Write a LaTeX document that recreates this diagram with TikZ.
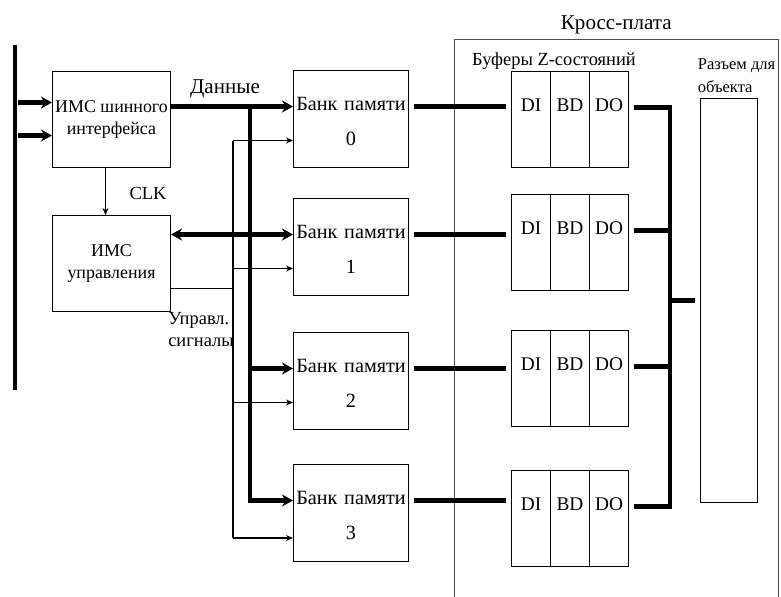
\documentclass[tikz,border=0pt]{standalone}
\usepackage{fontspec}
\setmainfont{Liberation Serif}
\usetikzlibrary{arrows.meta,positioning}
\tikzset{
  blk/.style={draw, line width=0.6pt, inner xsep=0pt, minimum width=2.36cm, minimum height=1.92cm, align=center, anchor=north west, font=\fontsize{10.2}{13}\selectfont},
  bank/.style={draw, line width=0.6pt, text width=2.3cm, inner sep=0pt, text height=0.8cm, text depth=1.14cm, align=center, anchor=north west, font=\fontsize{11.5}{20}\selectfont},
  cell/.style={draw, line width=0.6pt, minimum width=0.78cm, inner sep=0pt, text height=0.8cm, text depth=1.12cm, anchor=north west, font=\fontsize{11}{13}\selectfont},
  board/.style={draw=black!70, line width=0.4pt, minimum width=6.48cm, minimum height=12cm, anchor=north west},
  conn/.style={draw, line width=0.6pt, minimum width=1.14cm, minimum height=8.08cm, anchor=north west},
  sysbus/.style={fill=black, inner sep=0pt, minimum width=0.1cm, minimum height=6.9cm, anchor=north},
  lab/.style={font=\fontsize{10.5}{12.5}\selectfont, inner sep=1pt},
  busa/.style={line width=2.4pt, -{Stealth[length=2.2mm, width=2.4mm]}},
  busb/.style={line width=2.4pt, {Stealth[length=2.2mm, width=2.4mm]}-{Stealth[length=2.2mm, width=2.4mm]}},
  wire/.style={line width=0.6pt},
  ctl/.style={line width=0.6pt, -{Stealth[length=1.4mm, width=1.2mm]}},
  link/.style={line width=2.4pt, shorten <=0.1cm, shorten >=0.1cm},
}
\begin{document}
\begin{tikzpicture}[x=0.02cm, y=-0.02cm]
  \useasboundingbox (0,0) rectangle (781,596);
  % system bus and the two chips
  \node[sysbus] (sysbus) at (15,45) {};
  \node[blk] (busif) at (52,71) {ИМС шинного\\интерфейса};
  \node[blk] (ctrl) at (52,215) {ИМС\\управления};
  % memory banks
  \node[bank] (bank0) at (293,70) {Банк памяти\\0};
  \node[bank] (bank1) at (293,198) {Банк памяти\\1};
  \node[bank] (bank2) at (293,332) {Банк памяти\\2};
  \node[bank] (bank3) at (293,464) {Банк памяти\\3};
  % cross board
  \node[board] (cross) at (454,39) {};
  \node[lab, font=\fontsize{12}{14}\selectfont, above=0.06cm of cross.north] (crosslab) {Кросс-плата};
  \node[lab] (buflab) at (554,61) {Буферы Z-состояний};
  \node[cell] (di0) at (511,71) {DI};  \node[cell] (bd0) at (550,71) {BD};  \node[cell] (do0) at (589,71) {DO};
  \node[cell] (di1) at (511,194) {DI}; \node[cell] (bd1) at (550,194) {BD}; \node[cell] (do1) at (589,194) {DO};
  \node[cell] (di2) at (511,330) {DI}; \node[cell] (bd2) at (550,330) {BD}; \node[cell] (do2) at (589,330) {DO};
  \node[cell] (di3) at (511,470) {DI}; \node[cell] (bd3) at (550,470) {BD}; \node[cell] (do3) at (589,470) {DO};
  \node[conn] (razem) at (700,98) {};
  \node[lab, font=\fontsize{9.4}{11}\selectfont, align=left, inner sep=0pt, above right=0.1cm and -0.05cm of razem.north west] (razlab) {Разъем для\\[2pt]объекта};
  % labels
  \node[lab, font=\fontsize{12}{14}\selectfont] (datalab) at (225,89) {Данные};
  \node[lab] (clklab) at (148,193) {CLK};
  \node[lab, align=left] (siglab) at (201,330) {Управл.\\сигналы};
  % bus lines
  \coordinate (dbus) at (250,0);
  \coordinate (cbus) at (233,0);
  \coordinate (rbus) at (670,0);
  \coordinate (in1) at ([yshift=0.34cm]busif.west);
  \coordinate (in2) at ([yshift=-0.32cm]busif.west);
  \coordinate (cout) at ([yshift=-0.5cm]ctrl.east);
  \coordinate (c0) at ([yshift=-0.43cm]bank0.west);
  \coordinate (c1) at ([yshift=-0.43cm]bank1.west);
  \coordinate (c2) at ([yshift=-0.43cm]bank2.west);
  \coordinate (c3) at ([yshift=-0.5cm]bank3.west);
  \draw[busa] (in1 -| sysbus.east) -- (in1);
  \draw[busa] (in2 -| sysbus.east) -- (in2);
  \draw[ctl] ([xshift=-0.12cm]busif.south) -- ([xshift=-0.12cm]ctrl.north);
  \draw[busa] (busif.east |- bank0.mid west) -- (bank0.mid west);
  \draw[busa] (bank0.mid west -| dbus) |- (bank3.mid west);
  \draw[busa] (bank2.mid west -| dbus) -- (bank2.mid west);
  \draw[busb] (ctrl.east |- bank1.mid west) -- (bank1.mid west);
  \draw[wire] (cout) -- (cout -| cbus);
  \draw[wire] (c0 -| cbus) -- (c3 -| cbus);
  \draw[ctl] (c0 -| cbus) -- (c0);
  \draw[ctl] (c1 -| cbus) -- (c1);
  \draw[ctl] (c2 -| cbus) -- (c2);
  \draw[ctl] (c3 -| cbus) -- (c3);
  % banks to buffers, buffers to connector
  \draw[link] (bank0.mid east) -- (bank0.mid east -| di0.west);
  \draw[link] (bank1.mid east) -- (bank1.mid east -| di1.west);
  \draw[link] (bank2.mid east) -- (bank2.mid east -| di2.west);
  \draw[link] (bank3.mid east) -- (bank3.mid east -| di3.west);
  \draw[link] (do0.mid east) -| (do3.mid east -| rbus) -- (do3.mid east);
  \draw[link, shorten >=0pt] (do1.mid east) -- (do1.mid east -| rbus);
  \draw[link, shorten >=0pt] (do2.mid east) -- (do2.mid east -| rbus);
  \draw[link, shorten <=0pt] (razem.west -| rbus) -- (razem.west);
\end{tikzpicture}
\end{document}
